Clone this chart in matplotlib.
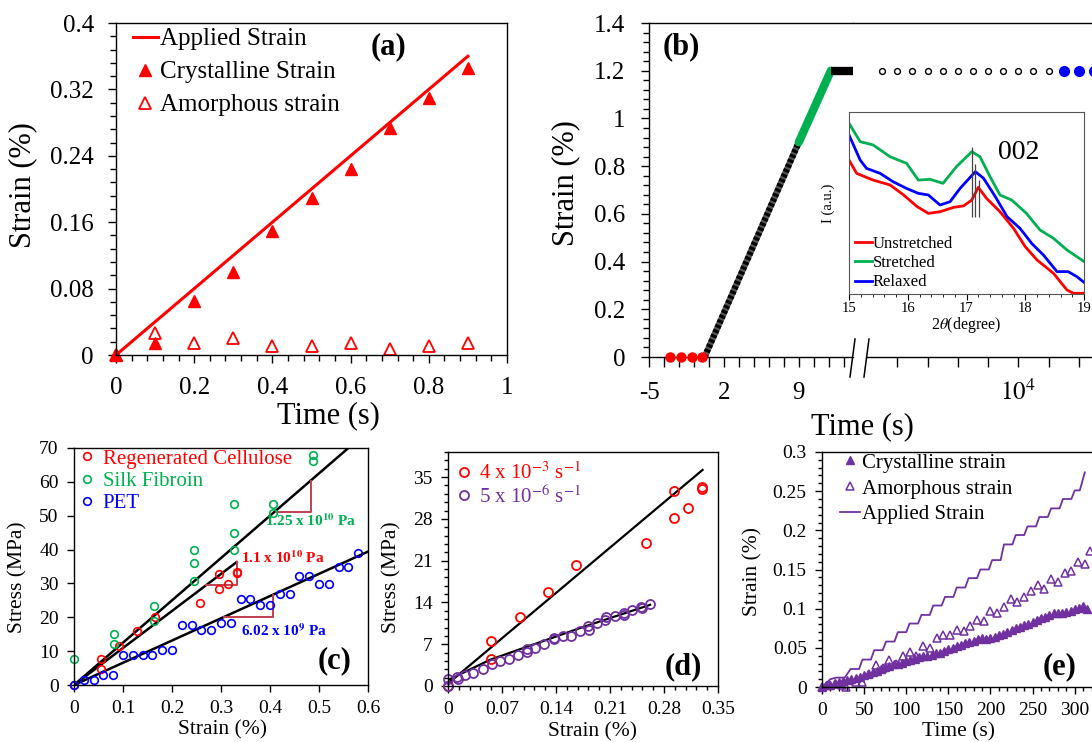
import numpy as np
import matplotlib.pyplot as plt
from matplotlib.lines import Line2D
from matplotlib.ticker import MultipleLocator

# figure is laid out in pixels of the 1092x742 reference
W, H = 1092, 742
plt.rcParams['font.family'] = ['Liberation Serif', 'DejaVu Serif']
plt.rcParams['mathtext.fontset'] = 'stix'
plt.rcParams['axes.linewidth'] = 1.0

RED = '#ff0000'
GREEN = '#00b050'
BLUE = '#0000ff'
PURPLE = '#7030a0'
SLOPE = '#c0404f'

# ---- (a) strain vs time ----
a_t = [0, 0.1, 0.2, 0.3, 0.4, 0.5, 0.6, 0.7, 0.8, 0.9]
a_cryst = [0, 0.015, 0.065, 0.1005, 0.149, 0.189, 0.224, 0.273, 0.310, 0.346]
a_amorph = [0, 0.026, 0.015, 0.020, 0.011, 0.011, 0.015, 0.007, 0.011, 0.015]
a_line_t = [0, 0.9]
a_line_s = [0, 0.36]

# ---- (b) loading history ----
b_pre_t = [-3, -2, -1, 0]
b_pre_s = [0, 0, 0, 0]
b_ramp_t = [0.2, 9]
b_ramp_s = [0, 0.9]
b_green_t = [9, 12]
b_green_s = [0.9, 1.2]
b_bar_t = [12, 14.6]
b_bar_s = [1.2, 1.2]
b_hold_t = [1000, 2000, 3000, 4000, 5000, 6000, 7000, 8000, 9000, 10000, 11000, 12000]
b_hold_s = [1.2] * 12
b_rel_t = [13000, 14000, 15000]
b_rel_s = [1.2, 1.2, 1.2]

# inset: XRD 002 peak
in_red_x = [15.0, 15.13, 15.41, 15.70, 15.93, 16.16, 16.35, 16.55, 16.78, 16.95, 17.09, 17.2,
            17.34, 17.57, 17.8, 18.0, 18.2, 18.48, 18.71, 18.82, 19.02]
in_red_y = [73.6, 66.3, 62.6, 59.9, 54.4, 48.0, 44.3, 45.2, 47.6, 48.4, 51.6, 58.6,
            52.6, 45.2, 36.1, 26.0, 18.7, 11.4, 2.2, 0.4, 0.4]
in_green_x = [15.0, 15.19, 15.41, 15.70, 15.98, 16.18, 16.38, 16.6, 16.83, 17.09, 17.23, 17.4,
              17.57, 17.77, 18.02, 18.25, 18.48, 18.71, 19.02]
in_green_y = [93.8, 83.7, 81.9, 75.4, 71.8, 62.6, 63.0, 60.8, 70.0, 78.2, 75.4, 64.5,
              54.4, 51.6, 44.3, 35.2, 30.6, 24.2, 17.4]
in_blue_x = [15.0, 15.19, 15.3, 15.53, 15.75, 15.98, 16.18, 16.35, 16.55, 16.72, 16.89, 17.15,
             17.29, 17.49, 17.69, 17.91, 18.11, 18.31, 18.54, 18.73, 18.88, 19.02]
in_blue_y = [87.4, 73.6, 69.0, 66.3, 61.7, 58.0, 55.3, 54.4, 48.9, 50.7, 58.0, 67.2,
             63.6, 53.5, 42.5, 36.1, 27.8, 21.4, 12.3, 12.3, 9.5, 5.9]
in_peak_x = [17.09, 17.15, 17.22]
in_peak_top = [80.9, 71.3, 62.6]
in_peak_bot = 42.1

# ---- (c) stress-strain ----
c_rc_x = [0, 0.0545, 0.0545, 0.091, 0.128, 0.166, 0.258, 0.295, 0.295, 0.314, 0.332, 0.332]
c_rc_y = [0, 7.7, 4.7, 11.4, 15.9, 20.2, 24.1, 32.8, 28.4, 29.9, 33.5, 33.0]
c_sf_x = [0, 0.082, 0.082, 0.163, 0.163, 0.244, 0.244, 0.244, 0.327, 0.327, 0.327, 0.407, 0.407, 0.488, 0.488]
c_sf_y = [7.6, 15.2, 12.2, 23.2, 18.8, 40.0, 36.0, 30.6, 53.5, 45.0, 39.9, 53.5, 50.9, 67.8, 66.2]
c_pet_x = [0, 0.02, 0.04, 0.06, 0.08, 0.10, 0.12, 0.14, 0.16, 0.18, 0.20, 0.22, 0.24, 0.26, 0.28,
           0.30, 0.32, 0.34, 0.36, 0.38, 0.40, 0.42, 0.44, 0.46, 0.48, 0.50, 0.52, 0.54, 0.56, 0.58]
c_pet_y = [0, 1.5, 1.5, 2.9, 2.9, 8.8, 8.8, 9.0, 9.0, 10.4, 10.4, 17.6, 17.6, 16.3, 16.3,
           18.2, 18.2, 25.4, 25.4, 23.7, 23.7, 27.0, 27.0, 32.2, 32.2, 29.9, 29.9, 35.0, 35.0, 39.0]
c_fit_sf = ([0, 0.6], [0, 75.0])
c_fit_rc = ([0, 0.332], [0, 36.3])
c_fit_pet = ([0, 0.6], [0, 39.4])
c_tri_sf = ([0.413, 0.484, 0.484], [51.0, 51.0, 60.2])
c_tri_rc = ([0.269, 0.332, 0.332], [29.5, 29.5, 36.3])
c_tri_pet = ([0.307, 0.406, 0.406], [20.0, 20.0, 26.5])

# ---- (d) strain-rate comparison ----
d_fast_x = [0, 0.056, 0.056, 0.0927, 0.129, 0.1655, 0.2565, 0.293, 0.293, 0.3116, 0.3297, 0.3297]
d_fast_y = [0, 7.6, 4.6, 11.5, 15.8, 20.2, 24.0, 32.6, 28.2, 29.8, 33.4, 33.0]
d_slow_x = [0, 0, 0.0116, 0.0125, 0.022, 0.033, 0.045, 0.057, 0.068, 0.079, 0.091, 0.102, 0.102,
            0.113, 0.125, 0.137, 0.137, 0.149, 0.159, 0.171, 0.182, 0.183, 0.193, 0.204, 0.205,
            0.216, 0.228, 0.228, 0.239, 0.25, 0.251, 0.262]
d_slow_y = [0, 1.1, 1.56, 1.2, 1.84, 2.23, 2.85, 3.63, 4.2, 4.6, 5.2, 5.75, 6.2,
            6.3, 7.0, 7.8, 8.1, 8.3, 8.4, 9.2, 10.1, 9.4, 10.6, 11.1, 11.5,
            11.7, 12.2, 11.9, 12.7, 13.3, 13.0, 13.75]
d_fit_fast = ([0, 0.33], [0.4, 36.2])
d_fit_slow = ([0, 0.0547, 0.171, 0.262], [1.0, 4.4, 9.7, 13.6])

# ---- (e) strain vs time, slow rate ----
e_t = [0, 5, 10, 15, 20, 25, 30, 35, 40, 45, 50, 55, 60, 65, 70, 75, 80, 85, 90, 95,
       100, 105, 110, 115, 120, 125, 130, 135, 140, 145, 150, 155, 160, 165, 170, 175,
       180, 185, 190, 195, 200, 205, 210, 215, 220, 225, 230, 235, 240, 245, 250, 255,
       260, 265, 270, 275, 280, 285, 290, 295, 300, 305, 310, 315]
e_cryst = [0, 0.002, 0.003, 0.005, 0.006, 0.008, 0.009, 0.010, 0.012, 0.013, 0.015, 0.017,
           0.019, 0.021, 0.023, 0.025, 0.027, 0.029, 0.030, 0.031, 0.033, 0.035, 0.036, 0.038,
           0.039, 0.040, 0.041, 0.043, 0.044, 0.046, 0.048, 0.050, 0.052, 0.054, 0.056, 0.058,
           0.059, 0.061, 0.062, 0.061, 0.062, 0.064, 0.066, 0.068, 0.070, 0.073, 0.075, 0.077,
           0.079, 0.081, 0.083, 0.086, 0.088, 0.090, 0.092, 0.094, 0.095, 0.095, 0.096, 0.097,
           0.099, 0.101, 0.104, 0.099]
e_am_t = [0, 8, 16, 24, 28, 40, 48, 56, 64, 72, 80, 88, 96, 104, 112, 120, 128, 136, 144, 152,
          160, 168, 176, 184, 192, 200, 208, 216, 224, 232, 240, 248, 256, 264, 272, 280, 288,
          296, 304, 312, 318]
e_amorph = [0, 0.002, 0.004, 0.002, 0.0, 0.007, 0.007, 0.016, 0.028, 0.024, 0.035, 0.030,
            0.040, 0.045, 0.040, 0.052, 0.050, 0.062, 0.066, 0.066, 0.073, 0.072, 0.078, 0.086,
            0.084, 0.097, 0.094, 0.102, 0.112, 0.108, 0.115, 0.122, 0.130, 0.125, 0.138, 0.134,
            0.145, 0.148, 0.160, 0.157, 0.173]
# staircase of the applied strain (vertices of flats and ramps)
e_app_t = [0, 10, 17, 27, 34, 44, 48, 58, 62, 72, 76, 86, 90, 100, 104, 114, 118, 128, 132,
           142, 146, 156, 160, 170, 174, 184, 188, 198, 202, 212, 216, 226, 230, 240, 244, 254,
           258, 268, 272, 282, 286, 296, 300, 306, 312]
e_app_s = [0, 0.010, 0.012, 0.012, 0.023, 0.023, 0.035, 0.035, 0.047, 0.047, 0.058, 0.058,
           0.070, 0.070, 0.081, 0.081, 0.092, 0.092, 0.104, 0.104, 0.115, 0.115, 0.127, 0.127,
           0.139, 0.139, 0.150, 0.150, 0.162, 0.162, 0.182, 0.182, 0.194, 0.194, 0.205, 0.205,
           0.217, 0.217, 0.228, 0.228, 0.240, 0.240, 0.251, 0.251, 0.274]


def box(l, t, r, b):
    return [l / W, 1 - b / H, (r - l) / W, (b - t) / H]


def ftext(x, y, s, **kw):
    fig.text(x / W, 1 - y / H, s, ha='center', va='center', **kw)


def style(ax, size, pad):
    ax.tick_params(which='both', direction='out', top=False, right=False,
                   labelsize=size, pad=pad)
    ax.tick_params(which='major', length=6, width=1)
    ax.tick_params(which='minor', length=4, width=1)


fig = plt.figure(figsize=(W / 100, H / 100), dpi=100)

# ======================= (a) =======================
ax = fig.add_axes(box(116, 23, 507, 355))
ax.plot(a_line_t, a_line_s, color=RED, lw=2.2, label='Applied Strain')
ax.plot(a_t, a_cryst, '^', color=RED, ms=8, clip_on=False, label='Crystalline Strain')
ax.plot(a_t, a_amorph, '^', mfc='none', mec=RED, mew=1.3, ms=9, clip_on=False,
        label='Amorphous strain')
ax.set_xlim(0, 1)
ax.set_ylim(0, 0.4)
ax.set_xticks([0, 0.2, 0.4, 0.6, 0.8, 1.0], ['0', '0.2', '0.4', '0.6', '0.8', '1'])
ax.set_yticks([0, 0.08, 0.16, 0.24, 0.32, 0.4], ['0', '0.08', '0.16', '0.24', '0.32', '0.4'])
ax.xaxis.set_minor_locator(MultipleLocator(0.04))
ax.yaxis.set_minor_locator(MultipleLocator(0.016))
style(ax, 18, 10)
ax.legend(loc='upper left', bbox_to_anchor=(0.043, 0.985), frameon=False, fontsize=18,
          handlelength=1.0, handletextpad=0.1, labelspacing=0.42, borderpad=0,
          borderaxespad=0)
ftext(388, 47, '(a)', fontsize=22, fontweight='bold')
ftext(23, 185, 'Strain (%)', fontsize=22, rotation=90)
ftext(328, 416, 'Time (s)', fontsize=22)

# ======================= (b) =======================
axL = fig.add_axes(box(649, 23, 853, 357))
axR = fig.add_axes(box(853, 23, 1100, 357))
axL.plot(b_ramp_t, b_ramp_s, color='#555555', lw=4.5, solid_capstyle='butt')
axL.plot(b_ramp_t, b_ramp_s, color='black', lw=4.5, ls=(0, (0.5, 0.35)))
axL.plot(b_green_t, b_green_s, color=GREEN, lw=6, solid_capstyle='round')
axL.plot(b_bar_t, b_bar_s, color='black', lw=6, solid_capstyle='butt', clip_on=False)
axL.plot(b_pre_t, b_pre_s, 'o', color=RED, ms=6.5, clip_on=False, zorder=5)
axL.set_xlim(-5, 14.07)
axL.set_ylim(0, 1.4)
axL.set_xticks(np.arange(-5, 14, 1.4))
axL.set_xticklabels(['-5', '', '', '', '', '2', '', '', '', '', '9', '', '', ''])
axL.set_yticks(np.arange(0, 1.41, 0.2), ['0', '0.2', '0.4', '0.6', '0.8', '1', '1.2', '1.4'])
axL.yaxis.set_minor_locator(MultipleLocator(0.04))
axL.spines['right'].set_visible(False)
style(axL, 18, 11)
axL.tick_params(axis='x', which='major', length=7)

axR.plot(b_hold_t, b_hold_s, 'o', mfc='white', mec='black', mew=1.0, ms=4.2)
axR.plot(b_rel_t, b_rel_s, 'o', color=BLUE, ms=7, clip_on=False)
axR.set_xlim(-925, 15400)
axR.set_ylim(0, 1.4)
axR.spines['left'].set_visible(False)
axR.spines['bottom'].set_bounds(0, 15400)
axR.set_yticks([])
axR.set_xticks(np.arange(2000, 15000, 2000))
axR.set_xticklabels(['', '', '', '', r'$10^4$', '', ''])
style(axR, 18, 9)
axR.tick_params(axis='x', which='major', length=7)

# break marks on the time axis
for x0 in (850, 864):
    fig.add_artist(Line2D([x0 / W, (x0 + 5) / W], [1 - 377 / H, 1 - 339 / H],
                          color='black', lw=1.1))

ftext(681, 47, '(b)', fontsize=22, fontweight='bold')
ftext(566, 183, 'Strain (%)', fontsize=22, rotation=90)
ftext(862, 427, 'Time (s)', fontsize=22)

# inset
ai = fig.add_axes(box(849, 112, 1084, 294))
ai.plot(in_red_x, in_red_y, color=RED, lw=2, label='Unstretched')
ai.plot(in_green_x, in_green_y, color=GREEN, lw=2, label='Stretched')
ai.plot(in_blue_x, in_blue_y, color=BLUE, lw=2, label='Relaxed')
ai.vlines(in_peak_x, in_peak_bot, in_peak_top, color='#444444', lw=0.9)
ai.set_xlim(15, 19)
ai.set_ylim(0, 100)
ai.set_yticks([])
ai.set_xticks([15, 16, 17, 18, 19])
ai.xaxis.set_minor_locator(MultipleLocator(0.2))
ai.tick_params(which='both', direction='out', top=False, labelsize=10.5, pad=2)
ai.tick_params(which='major', length=4)
ai.tick_params(which='minor', length=2.5)
for sp in ai.spines.values():
    sp.set_color('#555555')
    sp.set_linewidth(0.8)
ai.text(17.88, 77.5, '002', fontsize=20, ha='center', va='center')
ai.legend(loc='lower left', bbox_to_anchor=(0.025, 0.02), frameon=False, fontsize=12,
          handlelength=1.0, handletextpad=0.05, labelspacing=0.2, borderpad=0,
          borderaxespad=0)
ai.set_ylabel('I (a.u.)', fontsize=10.5)
ai.yaxis.set_label_coords(-0.06, 0.5)
ai.set_xlabel(r'2$\theta$(degree)', fontsize=11.5, labelpad=0)

# ======================= (c) =======================
ac = fig.add_axes(box(74, 448, 368, 685))
ac.plot(*c_fit_sf, color='black', lw=1.8)
ac.plot(*c_fit_rc, color='black', lw=1.8)
ac.plot(*c_fit_pet, color='black', lw=1.8)
for tri in (c_tri_sf, c_tri_rc, c_tri_pet):
    ac.plot(*tri, color=SLOPE, lw=1.4)
ac.plot(c_rc_x, c_rc_y, 'o', mfc='none', mec=RED, mew=1.2, ms=5.5, clip_on=False,
        label='Regenerated Cellulose')
ac.plot(c_sf_x, c_sf_y, 'o', mfc='none', mec=GREEN, mew=1.2, ms=5.5, clip_on=False,
        label='Silk Fibroin')
ac.plot(c_pet_x, c_pet_y, 'o', mfc='none', mec=BLUE, mew=1.2, ms=5.5, clip_on=False,
        label='PET')
ac.set_xlim(0, 0.6)
ac.set_ylim(0, 70)
ac.set_xticks([0, 0.1, 0.2, 0.3, 0.4, 0.5, 0.6], ['0', '0.1', '0.2', '0.3', '0.4', '0.5', '0.6'])
ac.set_yticks(range(0, 71, 10))
style(ac, 14, 6)
ac.tick_params(which='major', length=5)
ac.legend(loc='upper left', bbox_to_anchor=(0.016, 0.995), frameon=False, fontsize=15,
          handlelength=0.8, handletextpad=0.35, labelspacing=0.12, borderpad=0,
          borderaxespad=0, labelcolor='markeredgecolor')
ac.text(0.39, 48.6, r'1.25 x 10$^{\mathbf{10}}$ Pa', color=GREEN, fontsize=11,
        fontweight='bold', va='center')
ac.text(0.341, 37.6, r'1.1 x 10$^{\mathbf{10}}$ Pa', color=RED, fontsize=11,
        fontweight='bold', va='center')
ac.text(0.341, 16.0, r'6.02 x 10$^{\mathbf{9}}$ Pa', color=BLUE, fontsize=11,
        fontweight='bold', va='center')
ftext(335, 661, '(c)', fontsize=22, fontweight='bold')
ftext(18, 577, 'Stress (MPa)', fontsize=15.5, rotation=90)
ftext(222, 730, 'Strain (%)', fontsize=15.5)

# ======================= (d) =======================
ad = fig.add_axes(box(448, 452, 718, 686))
ad.plot(*d_fit_fast, color='black', lw=1.6)
ad.plot(*d_fit_slow, color='black', lw=1.6)
ad.plot(d_fast_x, d_fast_y, 'o', mfc='none', mec=RED, mew=1.3, ms=6.5, clip_on=False,
        label=r'4 x 10$^{-3}$ s$^{-1}$')
ad.plot(d_slow_x, d_slow_y, 'o', mfc='none', mec=PURPLE, mew=1.3, ms=6.5, clip_on=False,
        label=r'5 x 10$^{-6}$ s$^{-1}$')
ad.set_xlim(0, 0.35)
ad.set_ylim(0, 39.2)
ad.set_xticks([0, 0.07, 0.14, 0.21, 0.28, 0.35], ['0', '0.07', '0.14', '0.21', '0.28', '0.35'])
ad.set_yticks(range(0, 36, 7))
ad.xaxis.set_minor_locator(MultipleLocator(0.014))
ad.yaxis.set_minor_locator(MultipleLocator(1.4))
style(ad, 14, 6)
ad.tick_params(which='major', length=5)
ad.tick_params(which='minor', length=3)
ad.legend(loc='upper left', bbox_to_anchor=(0.03, 0.955), frameon=False, fontsize=15,
          handlelength=0.8, handletextpad=0.3, labelspacing=0.05, borderpad=0,
          borderaxespad=0, labelcolor='markeredgecolor')
ftext(683, 667, '(d)', fontsize=22, fontweight='bold')
ftext(392, 577, 'Stress (MPa)', fontsize=15.5, rotation=90)
ftext(593, 732, 'Strain (%)', fontsize=15.5)

# ======================= (e) =======================
ae = fig.add_axes(box(822, 452, 1100, 687))
ae.plot(e_t, e_cryst, '^', color=PURPLE, ms=5.5, clip_on=False, label='Crystalline strain')
ae.plot(e_am_t, e_amorph, '^', mfc='none', mec=PURPLE, mew=1.1, ms=6, clip_on=False,
        label='Amorphous strain')
ae.plot(e_app_t, e_app_s, color=PURPLE, lw=1.3, label='Applied Strain')
ae.set_xlim(0, 330)
ae.set_ylim(0, 0.3)
ae.set_xticks(range(0, 301, 50))
ae.set_yticks([0, 0.05, 0.1, 0.15, 0.2, 0.25, 0.3],
              ['0', '0.05', '0.1', '0.15', '0.2', '0.25', '0.3'])
ae.xaxis.set_minor_locator(MultipleLocator(10))
ae.yaxis.set_minor_locator(MultipleLocator(0.01))
style(ae, 14, 6)
ae.tick_params(which='major', length=5)
ae.tick_params(which='minor', length=3)
ae.legend(loc='upper left', bbox_to_anchor=(0.065, 0.995), frameon=False, fontsize=15,
          handlelength=0.95, handletextpad=0.1, labelspacing=0.3, borderpad=0,
          borderaxespad=0)
ftext(1060, 667, '(e)', fontsize=22, fontweight='bold')
ftext(753, 572, 'Strain (%)', fontsize=15.5, rotation=90)
ftext(958, 732, 'Time (s)', fontsize=15.5)

fig.savefig('out.png', dpi=100)
